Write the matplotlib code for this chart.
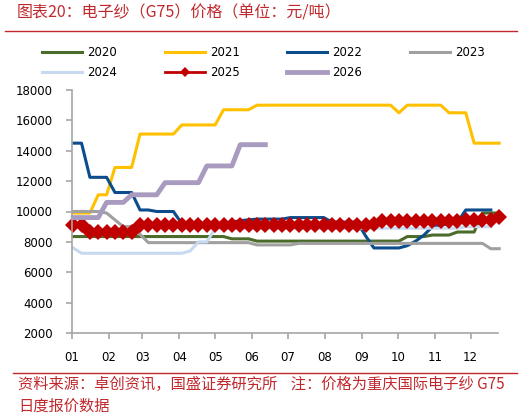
import numpy as np
import pandas as pd
import matplotlib
matplotlib.use("Agg")
import matplotlib.pyplot as plt
from matplotlib.lines import Line2D

CJK = ['Noto Sans CJK SC', 'DejaVu Sans']
RED = '#C0282D'

# Precio semanal (元/吨), un valor por semana
y2020 = [8350, 8350, 8350, 8350, 8350, 8350, 8350, 8350, 8350, 8350,
         8350, 8350, 8350, 8350, 8350, 8350, 8350, 8350, 8350, 8200,
         8200, 8200, 8050, 8050, 8050, 8050, 8050, 8050, 8050, 8050,
         8050, 8050, 8050, 8050, 8050, 8050, 8050, 8050, 8050, 8050,
         8350, 8350, 8350, 8450, 8450, 8450, 8650, 8650, 8650, 9900,
         9900, 9900]
y2021 = [9900, 9900, 9900, 11100, 11100, 12900, 12900, 12900, 15100, 15100,
         15100, 15100, 15100, 15700, 15700, 15700, 15700, 15700, 16700, 16700,
         16700, 16700, 17000, 17000, 17000, 17000, 17000, 17000, 17000, 17000,
         17000, 17000, 17000, 17000, 17000, 17000, 17000, 17000, 17000, 16500,
         17000, 17000, 17000, 17000, 17000, 16500, 16500, 16500, 14500, 14500,
         14500, 14500]
y2022 = [14500, 14500, 12250, 12250, 12250, 11250, 11250, 11250, 10100, 10100,
         10000, 10000, 10000, 9200, 9200, 9200, 9200, 9200, 9250, 9300,
         9400, 9450, 9500, 9500, 9500, 9500, 9600, 9600, 9600, 9600,
         9600, 9300, 9300, 9300, 9300, 8400, 7600, 7600, 7600, 7600,
         7750, 8050, 8450, 9000, 9100, 9200, 9300, 10100, 10100, 10100,
         10100]
y2023 = [10000, 10000, 10000, 10000, 9900, 9450, 9000, 9000, 8500, 7950,
         7950, 7950, 7950, 7950, 7950, 7950, 7950, 7950, 7950, 7950,
         7950, 7950, 7800, 7800, 7800, 7800, 7800, 7900, 7900, 7900,
         7900, 7900, 7900, 7900, 7900, 7900, 7900, 7900, 7900, 7900,
         7900, 7900, 7900, 7900, 7900, 7900, 7900, 7900, 7900, 7900,
         7550, 7550]
y2024 = [7600, 7250, 7250, 7250, 7250, 7250, 7250, 7250, 7250, 7250,
         7250, 7250, 7250, 7250, 7400, 8000, 8000, 8900, 8900, 8900,
         8900, 8900, 8900, 8900, 8900, 8900, 8900, 8900, 8900, 8900,
         8900, 8900, 8900, 8900, 8900, 8900, 8900, 8900, 8900, 8900,
         8900, 8900, 8900, 8900, 8900, 8900, 8900, 9000, 9000, 9000,
         9000]
y2025 = [9100, 9100, 8650, 8650, 8650, 8650, 8650, 8650, 9100, 9100,
         9100, 9100, 9100, 9100, 9100, 9100, 9100, 9100, 9100, 9100,
         9100, 9100, 9100, 9100, 9100, 9100, 9100, 9100, 9100, 9100,
         9100, 9100, 9100, 9100, 9100, 9100, 9200, 9350, 9350, 9350,
         9350, 9350, 9350, 9350, 9350, 9350, 9350, 9450, 9450, 9450,
         9450, 9650]
y2026 = [9600, 9600, 9600, 9600, 10600, 10600, 10600, 11100, 11100, 11100,
         11100, 11900, 11900, 11900, 11900, 11900, 13000, 13000, 13000, 13000,
         14400, 14400, 14400, 14400]

years = ['2020', '2021', '2022', '2023', '2024', '2025', '2026']
series = [y2020, y2021, y2022, y2023, y2024, y2025, y2026]
colors = ['#4A6B2A', '#FFC000', '#0B4C8C', '#A0A0A0', '#C6D9F0', '#C00000', '#A99BC0']
widths = [2.2, 2.2, 2.2, 2.2, 2.2, 2.0, 3.5]

month_labels = ['01', '02', '03', '04', '05', '06', '07', '08', '09', '10', '11', '12']
month_pos = pd.date_range('2021-01-01', periods=12, freq='MS').dayofyear - 1

fig = plt.figure(figsize=(5.25, 4.18), dpi=100)
ax = fig.add_axes([72 / 525, 1 - 333 / 418, 426 / 525, 243 / 418])

handles = {}
for year, vals, c, lw in zip(years, series, colors, widths):
    x = np.arange(len(vals)) * 7 + 1  # día del año de cada semana
    if year == '2025':
        h, = ax.plot(x, vals, color=c, lw=lw, marker='D', ms=8, mew=0, clip_on=False)
    else:
        h, = ax.plot(x, vals, color=c, lw=lw, clip_on=False)
    handles[year] = h

ax.set_xlim(0, 357)
ax.set_ylim(2000, 18000)
ax.set_yticks(np.arange(2000, 18001, 2000))
ax.set_xticks(month_pos)
ax.set_xticklabels(month_labels)

for s in ['top', 'right']:
    ax.spines[s].set_visible(False)
for s in ['left', 'bottom']:
    ax.spines[s].set_color('#A6A6A6')
    ax.spines[s].set_linewidth(1.2)
ax.tick_params(axis='both', direction='out', length=4, width=1.2, color='#A6A6A6',
               labelsize=8.5, labelcolor='black')
ax.tick_params(axis='y', pad=10)
ax.tick_params(axis='x', pad=9)

# leyenda por filas: 2020-2023 arriba, 2024-2026 abajo
order = ['2020', '2024', '2021', '2025', '2022', '2026', '2023']
fig.legend([handles[k] for k in order], order, loc='upper left',
           bbox_to_anchor=(42 / 525, 1 - 46 / 418), ncol=4, frameon=False,
           fontsize=8.5, handlelength=3.4, handletextpad=0.45, columnspacing=4.0,
           labelspacing=0.6, borderpad=0, borderaxespad=0, markerscale=0.7)

fig.text(17 / 525, 1 - 13 / 418, '图表20：电子纱（G75）价格（单位：元/吨）',
         ha='left', va='center', fontsize=11.5, color=RED, style='italic', family=CJK)
fig.add_artist(Line2D([5 / 525, 517 / 525], [1 - 31 / 418, 1 - 31 / 418], color=RED, lw=1))
fig.add_artist(Line2D([13 / 525, 517 / 525], [1 - 373 / 418, 1 - 373 / 418], color=RED, lw=1))
fig.text(18 / 525, 1 - 384 / 418,
         '资料来源：卓创资讯，国盛证券研究所    注：价格为重庆国际电子纱 G75',
         ha='left', va='center', fontsize=11, color=RED, style='italic', family=CJK)
fig.text(18 / 525, 1 - 406 / 418, '日度报价数据',
         ha='left', va='center', fontsize=11, color=RED, style='italic', family=CJK)

fig.savefig('out.png', dpi=100)
